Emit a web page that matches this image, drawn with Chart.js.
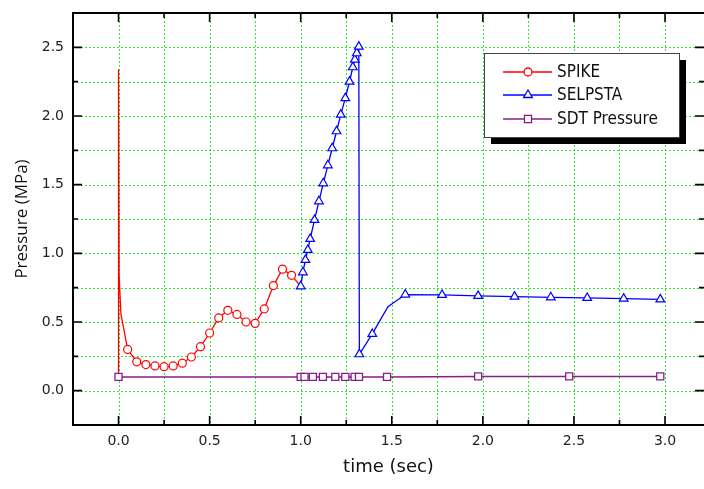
<!DOCTYPE html>
<html>
<head>
<meta charset="utf-8">
<script src="https://cdn.jsdelivr.net/npm/chart.js@4/dist/chart.umd.min.js"></script>
<style>
  body { margin: 0; background: #fff; }
  canvas { display: block; }
</style>
</head>
<body>
<canvas id="pressure-chart" width="704" height="489"></canvas>
<script>
// data
const spikeTime = [0, 0, 0.003, 0.013, 0.05, 0.10, 0.15, 0.20, 0.25, 0.30, 0.35, 0.40, 0.45, 0.50, 0.55, 0.60, 0.65, 0.70, 0.75, 0.80, 0.85, 0.90, 0.95, 1.00];
const spikeP = [0.10, 2.34, 0.85, 0.56, 0.30, 0.21, 0.19, 0.18, 0.175, 0.18, 0.20, 0.245, 0.32, 0.42, 0.53, 0.585, 0.555, 0.50, 0.49, 0.595, 0.765, 0.885, 0.84, 0.76];
const spikeMarked = [0, 0, 0, 0, 1, 1, 1, 1, 1, 1, 1, 1, 1, 1, 1, 1, 1, 1, 1, 1, 1, 1, 1, 0];

const selTime = [1.0, 1.012, 1.026, 1.039, 1.052, 1.076, 1.10, 1.124, 1.149, 1.173, 1.197, 1.22, 1.245, 1.268, 1.286, 1.297, 1.308, 1.319, 1.322, 1.393, 1.479, 1.574, 1.776, 1.974, 2.174, 2.373, 2.573, 2.773, 2.974];
const selP = [0.76, 0.862, 0.952, 1.025, 1.105, 1.243, 1.379, 1.51, 1.641, 1.765, 1.889, 2.01, 2.13, 2.25, 2.355, 2.41, 2.457, 2.505, 0.265, 0.413, 0.612, 0.70, 0.697, 0.69, 0.685, 0.68, 0.675, 0.67, 0.665];
const selMarked = [1, 1, 1, 1, 1, 1, 1, 1, 1, 1, 1, 1, 1, 1, 1, 1, 1, 1, 1, 1, 0, 1, 1, 1, 1, 1, 1, 1, 1];

const sdtTime = [0, 1.0, 1.021, 1.067, 1.122, 1.19, 1.245, 1.296, 1.32, 1.474, 1.974, 2.474, 2.974];
const sdtP = [0.10, 0.10, 0.10, 0.10, 0.10, 0.10, 0.10, 0.10, 0.10, 0.10, 0.104, 0.104, 0.104];

const seriesNames = ["SPIKE", "SELPSTA", "SDT Pressure"];

// tick positions (labels only on the half units)
const xTicks = [-0.25, 0, 0.25, 0.5, 0.75, 1.0, 1.25, 1.5, 1.75, 2.0, 2.25, 2.5, 2.75, 3.0];
const yTicks = [-0.25, 0, 0.25, 0.5, 0.75, 1.0, 1.25, 1.5, 1.75, 2.0, 2.25, 2.5, 2.75];

const toPoints = (xs, ys) => xs.map((x, i) => ({ x: x, y: ys[i] }));
const isMajor = v => Math.abs(v * 2 - Math.round(v * 2)) < 1e-6;
const inside = (v, lo, hi) => v > lo + 1e-6 && v < hi - 1e-6;

// dotted green grid, drawn under the curves
const gridPlugin = {
    id: "dottedGrid",
    beforeDatasetsDraw(chart) {
        const { ctx, chartArea: a, scales } = chart;
        ctx.save();
        ctx.strokeStyle = "rgb(40,238,40)";
        ctx.lineWidth = 1;
        ctx.setLineDash([2, 2]);
        ctx.beginPath();
        scales.y.ticks.forEach(t => {
            if (!inside(t.value, scales.y.min, scales.y.max)) return;
            const y = Math.round(scales.y.getPixelForValue(t.value)) + 0.5;
            ctx.moveTo(a.left, y); ctx.lineTo(a.right, y);
        });
        scales.x.ticks.forEach(t => {
            if (!inside(t.value, scales.x.min, scales.x.max)) return;
            const x = Math.round(scales.x.getPixelForValue(t.value)) + 0.5;
            ctx.moveTo(x, a.top); ctx.lineTo(x, a.bottom);
        });
        ctx.stroke();
        ctx.restore();
    }
};

// black frame + inward ticks like the origin plot
const framePlugin = {
    id: "frame",
    afterDatasetsDraw(chart) {
        const { ctx, chartArea: a, scales } = chart;
        ctx.save();
        ctx.strokeStyle = "#000";
        ctx.lineWidth = 2;
        ctx.beginPath();
        ctx.moveTo(a.right + 2, a.top);
        ctx.lineTo(a.left, a.top);
        ctx.lineTo(a.left, a.bottom);
        ctx.lineTo(a.right + 2, a.bottom);
        ctx.stroke();

        ctx.lineWidth = 1.6;
        ctx.beginPath();
        scales.y.ticks.forEach(t => {
            if (!inside(t.value, scales.y.min, scales.y.max)) return;
            const y = scales.y.getPixelForValue(t.value);
            const len = isMajor(t.value) ? 9 : 5;
            ctx.moveTo(a.left, y); ctx.lineTo(a.left + len, y);
            ctx.moveTo(a.right, y); ctx.lineTo(a.right - len, y);
        });
        scales.x.ticks.forEach(t => {
            if (!inside(t.value, scales.x.min, scales.x.max)) return;
            const x = scales.x.getPixelForValue(t.value);
            const len = isMajor(t.value) ? 9 : 5;
            ctx.moveTo(x, a.bottom); ctx.lineTo(x, a.bottom - len);
            ctx.moveTo(x, a.top); ctx.lineTo(x, a.top + len);
        });
        ctx.stroke();
        ctx.restore();
    }
};

// boxed legend with a drop shadow
const legendPlugin = {
    id: "boxLegend",
    afterDraw(chart) {
        const ctx = chart.ctx;
        const bx = 484, by = 53, bw = 195, bh = 84;
        ctx.save();
        ctx.fillStyle = "#000";
        ctx.fillRect(bx + 7, by + 7, bw, bh);
        ctx.fillStyle = "#fff";
        ctx.fillRect(bx, by, bw, bh);
        ctx.strokeStyle = "#444";
        ctx.lineWidth = 1;
        ctx.strokeRect(bx + 0.5, by + 0.5, bw, bh);

        const rows = [72, 95, 119];
        chart.data.datasets.forEach((ds, i) => {
            const y = rows[i];
            ctx.strokeStyle = ds.borderColor;
            ctx.lineWidth = ds.borderWidth;
            ctx.beginPath();
            ctx.moveTo(503, y); ctx.lineTo(552, y);
            ctx.stroke();
            ctx.fillStyle = "#fff";
            ctx.strokeStyle = ds.borderColor;
            ctx.lineWidth = 1.3;
            Chart.helpers.drawPoint(ctx, {
                pointStyle: ds.pointStyle,
                radius: ds.legendRadius,
                borderWidth: 1.3,
                rotation: 0
            }, 528, y);
            ctx.fillStyle = "#111";
            ctx.font = '17px "DejaVu Sans Condensed", "DejaVu Sans", sans-serif';
            ctx.textBaseline = "middle";
            ctx.fillText(ds.label, 557, y + 1);
        });
        ctx.restore();
    }
};

new Chart(document.getElementById("pressure-chart"), {
    type: "scatter",
    data: {
        datasets: [{
            label: seriesNames[0],
            data: toPoints(spikeTime, spikeP),
            showLine: true,
            borderColor: "#ff0000",
            borderWidth: 1.3,
            pointStyle: "circle",
            pointRadius: spikeMarked.map(m => m ? 4 : 0),
            legendRadius: 4,
            pointBorderWidth: 1.2,
            pointBackgroundColor: "#fff",
            pointBorderColor: "#ff0000",
            order: 2
        }, {
            label: seriesNames[1],
            data: toPoints(selTime, selP),
            showLine: true,
            borderColor: "#0000ff",
            borderWidth: 1.3,
            pointStyle: "triangle",
            pointRadius: selMarked.map(m => m ? 5 : 0),
            legendRadius: 5,
            pointBorderWidth: 1.2,
            pointBackgroundColor: "#fff",
            pointBorderColor: "#0000ff",
            order: 1
        }, {
            label: seriesNames[2],
            data: toPoints(sdtTime, sdtP),
            showLine: true,
            borderColor: "#8b1a8b",
            borderWidth: 1.5,
            pointStyle: "rect",
            pointRadius: 5,
            legendRadius: 5,
            pointBorderWidth: 1.3,
            pointBackgroundColor: "#fff",
            pointBorderColor: "#8b1a8b",
            order: 0
        }]
    },
    options: {
        responsive: false,
        animation: false,
        events: [],
        layout: { autoPadding: false, padding: { top: 13, right: 0, left: 0, bottom: 0 } },
        plugins: {
            legend: { display: false },
            tooltip: { enabled: false }
        },
        scales: {
            x: {
                type: "linear",
                min: -0.25,
                max: 3.214,
                afterBuildTicks: s => { s.ticks = xTicks.map(v => ({ value: v })); },
                afterFit: s => { s.height = 64; s.paddingLeft = 0; s.paddingRight = 0; },
                grid: { display: false, drawTicks: false },
                border: { display: false },
                ticks: {
                    autoSkip: false,
                    maxRotation: 0,
                    padding: 8,
                    color: "#222",
                    font: { family: '"DejaVu Sans", sans-serif', size: 14 },
                    callback: v => (isMajor(v) && v > -0.01) ? v.toFixed(1) : ""
                },
                title: {
                    display: true,
                    text: "time (sec)",
                    color: "#111",
                    font: { family: '"DejaVu Sans", sans-serif', size: 18 },
                    padding: { top: 0, bottom: 11 }
                }
            },
            y: {
                min: -0.25,
                max: 2.75,
                afterBuildTicks: s => { s.ticks = yTicks.map(v => ({ value: v })); },
                afterFit: s => { s.width = 73; s.paddingTop = 0; s.paddingBottom = 0; },
                grid: { display: false, drawTicks: false },
                border: { display: false },
                ticks: {
                    autoSkip: false,
                    padding: 9,
                    color: "#222",
                    font: { family: '"DejaVu Sans", sans-serif', size: 14 },
                    callback: v => (isMajor(v) && v > -0.01) ? v.toFixed(1) : ""
                },
                title: {
                    display: true,
                    text: "Pressure (MPa)",
                    color: "#111",
                    font: { family: '"Open Sans", sans-serif', size: 17 },
                    padding: { top: 12, bottom: 0 }
                }
            }
        }
    },
    plugins: [gridPlugin, framePlugin, legendPlugin]
});
</script>
</body>
</html>
